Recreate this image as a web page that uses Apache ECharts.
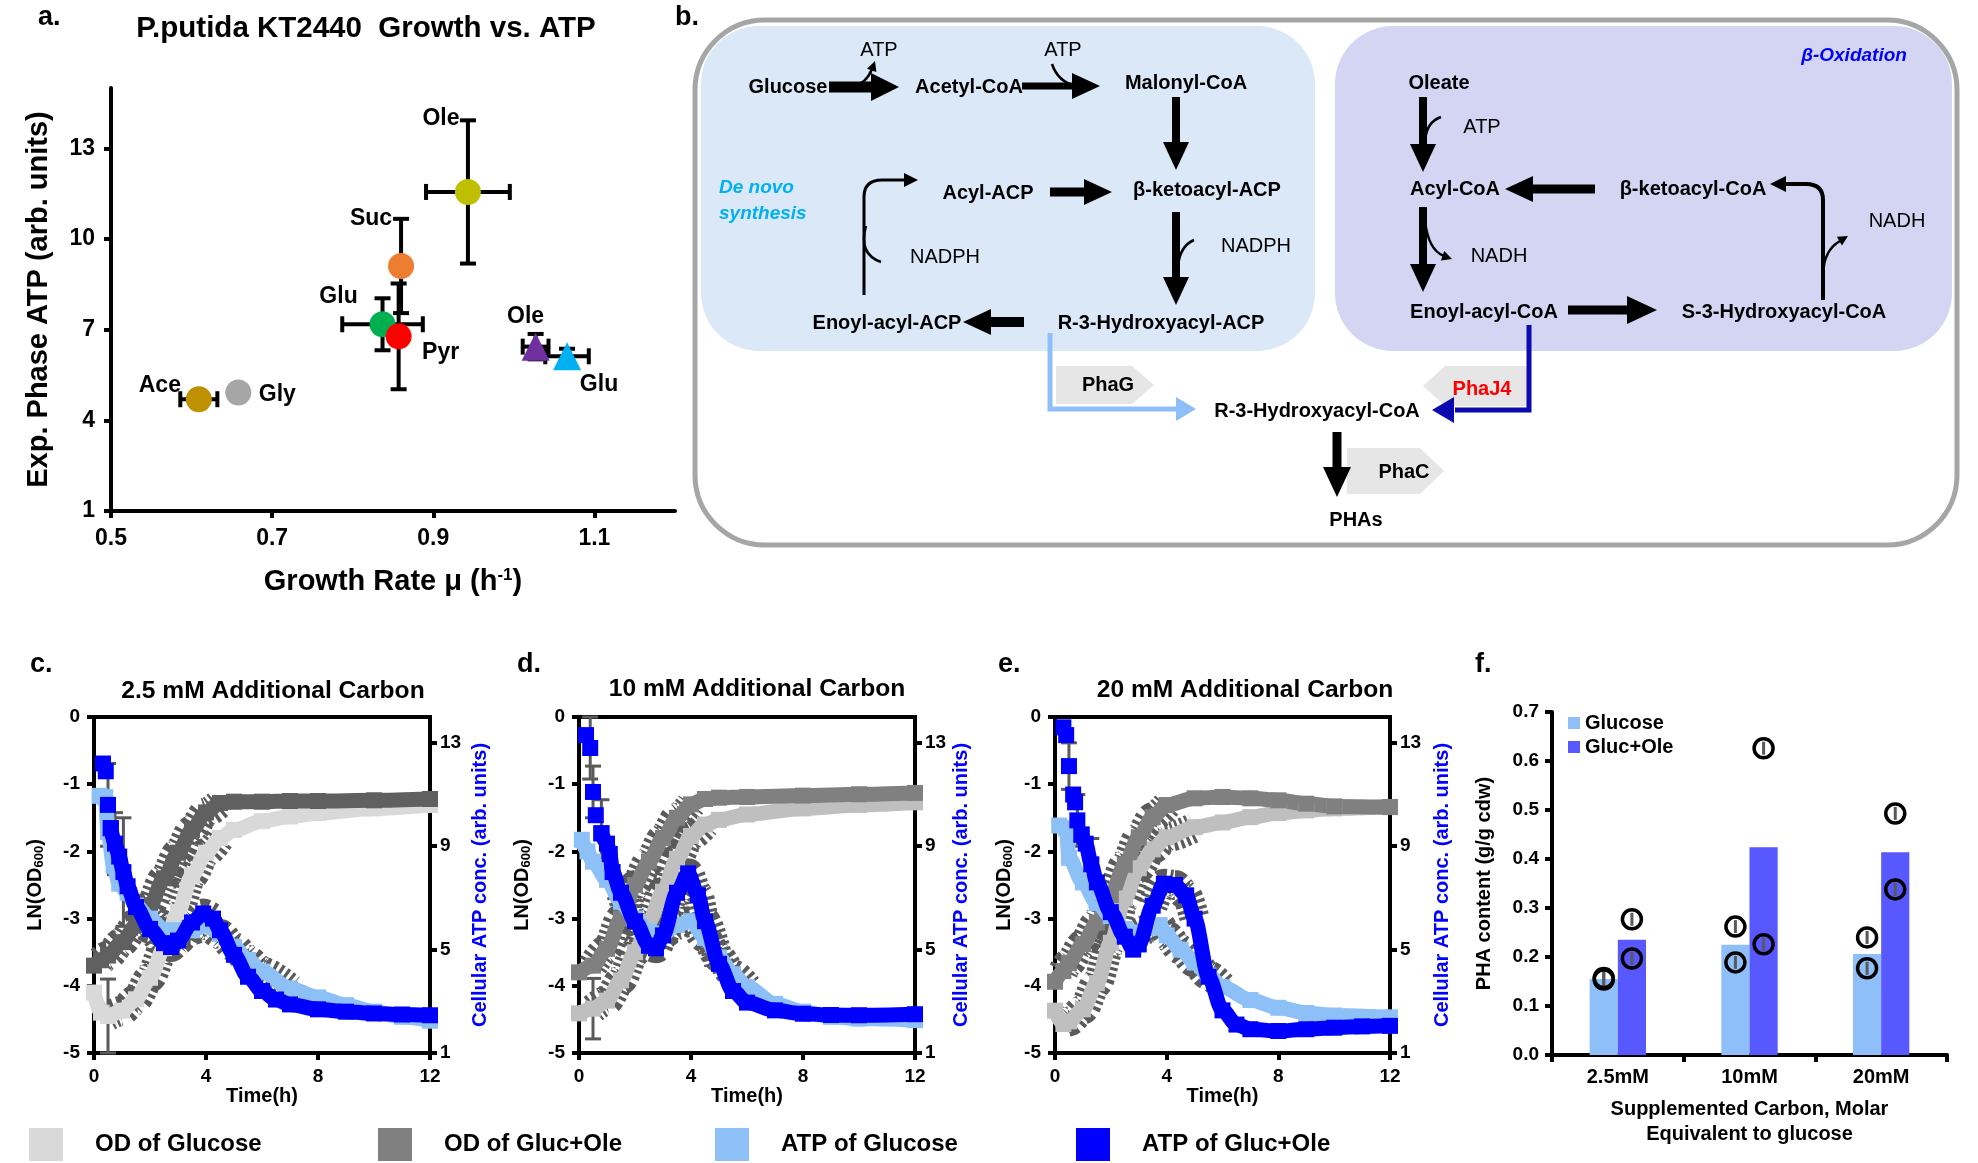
<!DOCTYPE html>
<html>
<head>
<meta charset="utf-8">
<script src="https://cdn.jsdelivr.net/npm/echarts@6/dist/echarts.min.js"></script>
<style>html,body{margin:0;padding:0;background:#fff}#c{width:1978px;height:1163px}</style>
</head>
<body>
<div id="c"></div>
<script>
// ================= DATA =================
// Panel a: growth rate vs exponential-phase ATP
const aNames = ['Ace','Gly','Glu','Pyr','Suc','Ole','Ole','Glu'];
const aGrowthRate = [0.609, 0.658, 0.837, 0.857, 0.860, 0.943, 1.027, 1.066];
const aATP = [4.70, 4.92, 7.18, 6.78, 9.11, 11.56, 6.44, 6.12];
const aGrowthErr = [0.023, 0, 0.050, 0, 0, 0.052, 0.016, 0.027];
const aATPErr = [0, 0, 0.86, 1.75, 1.56, 2.37, 0.42, 0.25];
const aXTicks = [0.5, 0.7, 0.9, 1.1];
const aYTicks = [1, 4, 7, 10, 13];

// Panels c-e shared ticks / legend
const timeTicks = [0, 4, 8, 12];
const odTicks = [-5, -4, -3, -2, -1, 0];
const atpTicks = [1, 5, 9, 13];
const legendNames = ['OD of Glucose', 'OD of Gluc+Ole', 'ATP of Glucose', 'ATP of Gluc+Ole'];

// Panel c: 2.5 mM
const cOdTime = [0, 0.25, 0.5, 1, 1.5, 2, 2.5, 3, 3.5, 4, 4.5, 5, 6, 7, 8, 10, 12];
const cOdGlucose = [-4.1, -4.4, -4.45, -4.37, -4.2, -3.88, -3.44, -2.9, -2.36, -2.02, -1.8, -1.68, -1.55, -1.48, -1.43, -1.36, -1.31];
const cOdGlucoseErr = [0, 0, 0.55, 0, 0, 0, 0, 0, 0, 0, 0, 0, 0, 0, 0, 0, 0];
const cOdGlucOle = [-3.7, -3.62, -3.55, -3.35, -3.1, -2.8, -2.4, -2.02, -1.68, -1.42, -1.28, -1.26, -1.26, -1.25, -1.25, -1.24, -1.22];
const cAtpGlucTime = [0.2, 0.4, 0.5, 0.7, 0.9, 1.2, 1.5, 2, 2.5, 3, 3.5, 4, 4.5, 5, 5.5, 6, 7, 8, 9, 10, 11, 12];
const cAtpGlucose = [10.95, 10.9, 9.55, 8.25, 7.55, 7.2, 6.7, 6.2, 5.75, 5.75, 5.75, 5.95, 5.6, 5.1, 4.6, 4.15, 3.5, 3.15, 2.85, 2.6, 2.4, 2.25];
const cAtpOleTime = [0.32, 0.42, 0.5, 0.6, 0.75, 0.9, 1.05, 1.2, 1.5, 2, 2.5, 2.75, 3, 3.5, 3.9, 4.25, 4.5, 5, 5.5, 6, 6.5, 7, 8, 9, 10, 11, 12];
const cAtpGlucOle = [12.2, 11.9, 10.6, 9.7, 9.1, 8.6, 8.0, 7.45, 6.65, 5.8, 5.25, 5.1, 5.35, 6.05, 6.4, 6.2, 5.75, 4.8, 3.95, 3.4, 3.07, 2.88, 2.69, 2.6, 2.53, 2.49, 2.46];
const cAtpGlucOleErr = [0, 0, 1.6, 0, 1.2, 0, 2.1, 0, 0, 0, 0, 0, 0, 0, 0, 0, 0, 0, 0, 0, 0, 0, 0, 0, 0, 0, 0];

// Panel d: 10 mM
const dOdTime = [0, 0.5, 1, 1.5, 2, 2.5, 3, 3.5, 4, 4.5, 5, 6, 8, 10, 12];
const dOdGlucose = [-4.41, -4.34, -4.22, -3.92, -3.5, -3.05, -2.6, -2.11, -1.77, -1.6, -1.53, -1.45, -1.36, -1.31, -1.27];
const dOdGlucoseErr = [0, 0.45, 0, 0, 0, 0, 0, 0, 0, 0, 0, 0, 0, 0, 0];
const dOdGlucOle = [-3.8, -3.7, -3.45, -3.0, -2.5, -2.15, -1.8, -1.5, -1.3, -1.22, -1.2, -1.19, -1.17, -1.15, -1.13];
const dAtpGlucTime = [0.1, 0.3, 0.5, 1, 1.5, 2, 2.5, 3, 3.5, 4, 4.5, 5, 5.5, 6, 7, 8, 9, 10, 12];
const dAtpGlucose = [9.25, 8.8, 8.4, 7.7, 6.85, 6.2, 5.7, 5.6, 5.95, 6.1, 5.45, 4.7, 4.05, 3.55, 2.9, 2.6, 2.4, 2.33, 2.27];
const dAtpOleTime = [0.25, 0.4, 0.5, 0.6, 0.8, 1.0, 1.1, 1.2, 1.5, 2, 2.5, 2.75, 3, 3.5, 3.9, 4.25, 4.5, 5, 5.5, 6, 7, 8, 9, 10, 12];
const dAtpGlucOle = [13.3, 12.8, 11.1, 10.2, 9.5, 9.1, 8.7, 8.0, 7.2, 6.1, 5.15, 5.05, 5.55, 7.2, 7.95, 7.1, 6.1, 4.45, 3.4, 2.95, 2.65, 2.52, 2.47, 2.46, 2.5];
const dAtpGlucOleErr = [0, 1.2, 1.0, 0, 1.3, 0, 0, 0, 0, 0, 0, 0, 0, 0, 0, 0, 0, 0, 0, 0, 0, 0, 0, 0, 0];

// Panel e: 20 mM
const eOdTime = [0, 0.3, 0.5, 1, 1.5, 2, 2.5, 3, 3.5, 4, 5, 6, 7, 8, 9, 10, 12];
const eOdGlucose = [-4.37, -4.57, -4.53, -4.35, -3.96, -3.36, -2.7, -2.25, -1.97, -1.79, -1.64, -1.57, -1.49, -1.43, -1.39, -1.36, -1.34];
const eOdGlucOle = [-3.94, -3.78, -3.66, -3.38, -3.06, -2.65, -2.2, -1.79, -1.49, -1.31, -1.21, -1.19, -1.21, -1.24, -1.29, -1.33, -1.34];
const eAtpGlucTime = [0.15, 0.4, 0.5, 1, 1.5, 2, 2.5, 3, 3.5, 3.75, 4, 4.5, 5, 5.5, 6, 7, 8, 9, 10, 12];
const eAtpGlucose = [9.8, 9.7, 8.55, 7.6, 6.8, 6.3, 5.8, 5.65, 5.85, 5.95, 5.55, 5.0, 4.5, 4.0, 3.55, 3.05, 2.75, 2.55, 2.45, 2.38];
const eAtpOleTime = [0.3, 0.4, 0.5, 0.65, 0.72, 0.8, 0.95, 1.1, 1.3, 1.5, 2, 2.5, 2.8, 3, 3.5, 3.9, 4.3, 4.7, 5, 5.5, 6, 6.5, 7, 8, 9, 10, 11, 12];
const eAtpGlucOle = [13.6, 13.3, 12.1, 11.0, 10.7, 10.0, 9.45, 9.1, 8.3, 7.6, 6.45, 5.5, 5.0, 5.2, 6.7, 7.55, 7.5, 7.1, 6.2, 3.95, 2.65, 2.1, 1.92, 1.85, 1.92, 1.98, 2.03, 2.05];
const eAtpGlucOleErr = [0, 0, 0.9, 0, 0, 1.0, 0, 0, 1.0, 0, 0, 0, 0, 0, 0, 0, 0, 0, 0, 0, 0, 0, 0, 0, 0, 0, 0, 0];

// Panel f: PHA content
const fCategories = ['2.5mM', '10mM', '20mM'];
const fGlucose = [0.155, 0.225, 0.206];
const fGlucOle = [0.235, 0.424, 0.414];
const fGlucoseReps = [[0.157, 0.154], [0.262, 0.189], [0.240, 0.177]];
const fGlucOleReps = [[0.277, 0.197], [0.626, 0.226], [0.493, 0.338]];
const fTicks = [0, 0.1, 0.2, 0.3, 0.4, 0.5, 0.6, 0.7];

// ================= STYLE =================
const FF = '"Liberation Sans", Arial, Helvetica, sans-serif';
const aColors = ['#BF9000', '#A6A6A6', '#00B050', '#FF0000', '#ED7D31', '#BFBF00', '#7030A0', '#00B0F0'];
const aSymbols = ['circle', 'circle', 'circle', 'circle', 'circle', 'circle', 'triangle', 'triangle'];
const aLabelOffsets = [[-39, -14], [39, 2], [-44, -28], [42, 16], [-30, -47], [-27, -73], [-10, -30], [32, 28]];
const C_ATPGLU = '#8EC0F8', C_ATPOLE = '#0000FF', C_ERR = '#5A5A5A';
const cGrey = ['#D9D9D9', '#606060'], deGrey = ['#BFBFBF', '#808080'];
const legendColors = ['#D9D9D9', '#808080', C_ATPGLU, C_ATPOLE];
const fBarOffset = 0.107;
const LW = 15, SS = 16;

// ================= HELPERS =================
const pairs = (t, v) => t.map((x, i) => [x, v[i]]);
const triples = (t, v, e) => t.map((x, i) => [x, v[i], e[i]]).filter(d => d[2] > 0);

function valAxis(o) {
  return {
    type: 'value', gridIndex: o.gridIndex, min: o.min, max: o.max, position: o.position,
    axisLine: { show: true, onZero: false, lineStyle: { color: '#000', width: 4 } },
    axisTick: { show: true, inside: false, length: o.tickLen || 7, lineStyle: { color: '#000', width: 4 }, customValues: o.ticks },
    axisLabel: { show: true, customValues: o.ticks, formatter: o.fmt, color: '#000', fontSize: o.fontSize || 19, fontWeight: 'bold', fontFamily: FF, margin: o.margin || 12 },
    splitLine: { show: false },
    name: o.name, nameLocation: 'middle', nameGap: o.nameGap,
    nameTextStyle: { color: o.nameColor || '#000', fontSize: o.nameSize || 20, fontWeight: 'bold', fontFamily: FF, lineHeight: o.lineHeight, rich: o.rich }
  };
}

const subRich = { sub: { fontSize: 13, fontWeight: 'bold', fontFamily: FF, color: '#000', verticalAlign: 'bottom', padding: [8, 0, 0, 0] } };
const supRich = { sup: { fontSize: 17, fontWeight: 'bold', fontFamily: FF, color: '#000', verticalAlign: 'top', padding: [0, 0, 10, 0] } };

function mainLine(name, color, t, v, xi, yi, z) {
  return { type: 'line', name, xAxisIndex: xi, yAxisIndex: yi, data: pairs(t, v), smooth: 0.3, smoothMonotone: 'x',
    symbol: 'rect', symbolSize: SS, showSymbol: true, lineStyle: { width: LW, color }, itemStyle: { color, opacity: 1 }, z, silent: true };
}
function atpOle(name, color, t, v, xi, yi, k) {
  const d = pairs(t, v);
  return [
    { type: 'scatter', name, xAxisIndex: xi, yAxisIndex: yi, data: d.slice(0, k), symbol: 'rect', symbolSize: SS, itemStyle: { color, opacity: 1 }, z: 5, silent: true },
    { type: 'line', name, xAxisIndex: xi, yAxisIndex: yi, data: d.slice(k - 1), smooth: 0.3, smoothMonotone: 'x',
      symbol: 'rect', symbolSize: SS, showSymbol: true, lineStyle: { width: LW, color }, itemStyle: { color, opacity: 1 }, z: 5, silent: true }
  ];
}
// dense error-bar hatching along a stretch of a curve
function hatch(t, v, i0, i1, xi, yi, w) {
  return { type: 'line', name: 'hatch', xAxisIndex: xi, yAxisIndex: yi, data: pairs(t, v).slice(i0, i1 + 1),
    smooth: 0.3, smoothMonotone: 'x', symbol: 'none', silent: true, z: 2,
    lineStyle: { width: w || 30, color: C_ERR, type: [3, 3], cap: 'butt' } };
}
function errSeries(t, v, e, xi, yi) {
  return { type: 'custom', name: 'err', xAxisIndex: xi, yAxisIndex: yi, z: 2, silent: true, encode: { x: 0, y: 1 },
    data: triples(t, v, e),
    renderItem: (params, api) => {
      const x = api.value(0), y = api.value(1), e = api.value(2);
      const top = api.coord([x, y + e]), bot = api.coord([x, y - e]);
      const st = { stroke: C_ERR, lineWidth: 3 }, cap = 8;
      return { type: 'group', children: [
        { type: 'line', shape: { x1: top[0], y1: top[1], x2: bot[0], y2: bot[1] }, style: st },
        { type: 'line', shape: { x1: top[0] - cap, y1: top[1], x2: top[0] + cap, y2: top[1] }, style: st },
        { type: 'line', shape: { x1: bot[0] - cap, y1: bot[1], x2: bot[0] + cap, y2: bot[1] }, style: st }
      ] };
    } };
}

function panelAxes(gi, leftGap, rightGap) {
  return {
    x: valAxis({ gridIndex: gi, min: 0, max: 12, ticks: timeTicks, name: 'Time(h)', nameGap: 32, margin: 14 }),
    yl: valAxis({ gridIndex: gi, min: -5, max: 0, ticks: odTicks, name: 'LN(OD{sub|600})', nameGap: leftGap, rich: subRich, margin: 14 }),
    yr: valAxis({ gridIndex: gi, min: 1, max: 14, ticks: atpTicks, position: 'right', name: 'Cellular ATP conc. (arb. units)', nameGap: rightGap, nameColor: '#0000FF', margin: 10 })
  };
}
const pc = panelAxes(1, 48, 40), pd = panelAxes(2, 46, 36), pe = panelAxes(3, 40, 42);

// error bars for panel a
function errRender(params, api) {
  const x = api.value(0), y = api.value(1), ex = api.value(2), ey = api.value(3);
  const st = { stroke: '#000', lineWidth: 4 };
  const cap = 8, ch = [];
  if (ex > 0) {
    const l = api.coord([x - ex, y]), r = api.coord([x + ex, y]);
    ch.push({ type: 'line', shape: { x1: l[0], y1: l[1], x2: r[0], y2: r[1] }, style: st });
    ch.push({ type: 'line', shape: { x1: l[0], y1: l[1] - cap, x2: l[0], y2: l[1] + cap }, style: st });
    ch.push({ type: 'line', shape: { x1: r[0], y1: r[1] - cap, x2: r[0], y2: r[1] + cap }, style: st });
  }
  if (ey > 0) {
    const t = api.coord([x, y + ey]), b = api.coord([x, y - ey]);
    ch.push({ type: 'line', shape: { x1: t[0], y1: t[1], x2: b[0], y2: b[1] }, style: st });
    ch.push({ type: 'line', shape: { x1: t[0] - cap, y1: t[1], x2: t[0] + cap, y2: t[1] }, style: st });
    ch.push({ type: 'line', shape: { x1: b[0] - cap, y1: b[1], x2: b[0] + cap, y2: b[1] }, style: st });
  }
  return { type: 'group', children: ch };
}

// ================= DIAGRAM (panel b) helpers =================
function T(text, x, y, o) {
  o = o || {};
  const al = o.align || 'center';
  return { type: 'text', x, y, z: 20, silent: true,
    style: { text, font: (o.italic ? 'italic ' : '') + (o.weight || 'bold') + ' ' + (o.size || 20) + 'px ' + FF,
      fill: o.color || '#000', align: al, verticalAlign: 'middle', textAlign: al, textVerticalAlign: 'middle' } };
}
function P(points, fill, z) { return { type: 'polygon', z: z || 12, silent: true, shape: { points }, style: { fill } }; }
function PL(points, stroke, w, z) { return { type: 'polyline', z: z || 12, silent: true, shape: { points }, style: { stroke, lineWidth: w, fill: 'none' } }; }
function BZ(x1, y1, cx, cy, x2, y2, stroke, w) {
  return { type: 'bezierCurve', z: 12, silent: true, shape: { x1, y1, x2, y2, cpx1: cx, cpy1: cy }, style: { stroke: stroke || '#000', lineWidth: w || 2.5, fill: 'none' } };
}
function hArrow(x1, x2, y, sw, hl, hw) {
  const d = x2 > x1 ? 1 : -1, b = x2 - d * hl;
  return P([[x1, y - sw / 2], [b, y - sw / 2], [b, y - hw / 2], [x2, y], [b, y + hw / 2], [b, y + sw / 2], [x1, y + sw / 2]], '#000');
}
function vArrow(x, y1, y2, sw, hl, hw) {
  const d = y2 > y1 ? 1 : -1, b = y2 - d * hl;
  return P([[x - sw / 2, y1], [x - sw / 2, b], [x - hw / 2, b], [x, y2], [x + hw / 2, b], [x + sw / 2, b], [x + sw / 2, y1]], '#000');
}
function head(tx, ty, dx, dy, len, half, fill) {
  const n = Math.hypot(dx, dy); dx /= n; dy /= n;
  const bx = tx - dx * len, by = ty - dy * len;
  return P([[tx, ty], [bx - dy * half, by + dx * half], [bx + dy * half, by - dx * half]], fill || '#000');
}

const diagram = [
  { type: 'rect', z: 1, silent: true, shape: { x: 695, y: 20, width: 1262, height: 525, r: 70 }, style: { fill: '#fff', stroke: '#A6A6A6', lineWidth: 5 } },
  { type: 'rect', z: 2, silent: true, shape: { x: 701, y: 26, width: 614, height: 325, r: 58 }, style: { fill: '#DAE8F8' } },
  { type: 'rect', z: 2, silent: true, shape: { x: 1335, y: 26, width: 617, height: 325, r: 58 }, style: { fill: '#D4D5F3' } },
  P([[1056, 366], [1132, 366], [1154, 385], [1132, 404], [1056, 404]], '#E6E6E6', 5),
  P([[1445, 366], [1527, 366], [1527, 406], [1445, 406], [1423, 386]], '#E6E6E6', 5),
  P([[1347, 448], [1420, 448], [1444, 471], [1420, 494], [1347, 494]], '#E6E6E6', 5),
  hArrow(829, 899, 87, 11, 28, 28),
  BZ(853, 86, 866, 84, 872, 69), head(875, 61, 0.35, -1, 10, 5),
  hArrow(1022, 1100, 86, 7, 28, 26),
  BZ(1052, 64, 1058, 82, 1076, 86),
  vArrow(1176, 97, 170, 8, 28, 26),
  hArrow(1050, 1112, 192, 9, 28, 26),
  vArrow(1176, 212, 305, 8, 28, 26),
  BZ(1194, 240, 1180, 246, 1178, 266),
  hArrow(1024, 963, 322, 10, 28, 26),
  PL([[864, 295], [864, 197]], '#000', 3),
  BZ(864, 197, 864, 180, 882, 180, '#000', 3),
  PL([[882, 180], [906, 180]], '#000', 3),
  head(918, 180, 1, 0, 14, 7),
  BZ(866, 226, 858, 254, 881, 262),
  PL([[1050, 333], [1050, 409], [1178, 409]], '#8FBFF8', 5, 11),
  head(1196, 409, 1, 0, 20, 12, '#8FBFF8'),
  vArrow(1423, 97, 172, 8, 28, 26),
  BZ(1441, 117, 1426, 122, 1425, 142),
  hArrow(1595, 1505, 189, 9, 28, 26),
  vArrow(1423, 207, 292, 8, 28, 26),
  BZ(1425, 220, 1428, 250, 1444, 256), head(1452, 259, 1, 0.35, 10, 5),
  hArrow(1568, 1657, 310, 9, 30, 28),
  PL([[1823, 300], [1823, 200]], '#000', 4),
  BZ(1823, 200, 1823, 184, 1806, 184, '#000', 4),
  PL([[1806, 184], [1785, 184]], '#000', 4),
  head(1770, 184, -1, 0, 16, 8),
  BZ(1823, 274, 1824, 250, 1840, 241), head(1848, 236, 1, -0.6, 10, 5),
  PL([[1529, 325], [1529, 410], [1455, 410]], '#0A0AB0', 5, 11),
  head(1432, 410, -1, 0, 22, 13, '#0A0AB0'),
  vArrow(1337, 432, 497, 9, 30, 28),
  T('Glucose', 788, 87), T('ATP', 879, 50, { weight: 'normal' }), T('Acetyl-CoA', 969, 87),
  T('ATP', 1063, 50, { weight: 'normal' }), T('Malonyl-CoA', 1186, 83),
  T('De novo', 719, 188, { italic: true, color: '#00B0F0', align: 'left', size: 19 }),
  T('synthesis', 719, 214, { italic: true, color: '#00B0F0', align: 'left', size: 19 }),
  T('Acyl-ACP', 988, 193), T('β-ketoacyl-ACP', 1207, 190),
  T('NADPH', 945, 257, { weight: 'normal' }), T('NADPH', 1256, 246, { weight: 'normal' }),
  T('Enoyl-acyl-ACP', 887, 323), T('R-3-Hydroxyacyl-ACP', 1161, 323),
  T('PhaG', 1108, 385), T('R-3-Hydroxyacyl-CoA', 1317, 411), T('PhaJ4', 1482, 389, { color: '#FF0000' }),
  T('PhaC', 1404, 472), T('PHAs', 1356, 520),
  T('β-Oxidation', 1854, 56, { italic: true, color: '#0000FF', size: 19 }),
  T('Oleate', 1439, 83), T('ATP', 1482, 127, { weight: 'normal' }), T('Acyl-CoA', 1455, 189),
  T('β-ketoacyl-CoA', 1693, 189), T('NADH', 1499, 256, { weight: 'normal' }), T('NADH', 1897, 221, { weight: 'normal' }),
  T('Enoyl-acyl-CoA', 1484, 312), T('S-3-Hydroxyacyl-CoA', 1784, 312)
];

const panelTexts = [
  T('a.', 38, 18, { align: 'left', size: 27 }),
  T('P.putida KT2440  Growth vs. ATP', 366, 29, { size: 29.5 }),
  T('b.', 675, 18, { align: 'left', size: 27 }),
  T('c.', 30, 665, { align: 'left', size: 27 }),
  T('d.', 517, 665, { align: 'left', size: 27 }),
  T('e.', 998, 665, { align: 'left', size: 27 }),
  T('f.', 1475, 665, { align: 'left', size: 27 }),
  T('2.5 mM Additional Carbon', 273, 691, { size: 24.6 }),
  T('10 mM Additional Carbon', 757, 689, { size: 24.6 }),
  T('20 mM Additional Carbon', 1245, 690, { size: 24.6 })
];

// ================= OPTION =================
const boxGrid = { show: true, borderColor: '#000', borderWidth: 4, backgroundColor: 'transparent', outerBoundsMode: 'none' };
const legendBase = { icon: 'rect', itemWidth: 34, itemHeight: 33, top: 1128, padding: 0, selectedMode: false,
  textStyle: { fontSize: 24, fontWeight: 'bold', color: '#000', fontFamily: FF, padding: [0, 0, 0, 27] } };
const legendLefts = [29, 378, 715, 1076];

const repPoints = fCategories.flatMap((c, i) => fGlucoseReps[i].map(v => [i + 0.5 - fBarOffset, v])
  .concat(fGlucOleReps[i].map(v => [i + 0.5 + fBarOffset, v])));

const option = {
  animation: false,
  backgroundColor: '#fff',
  textStyle: { fontFamily: FF },
  grid: [
    { left: 111, top: 88, width: 564, height: 423, outerBoundsMode: 'none' },
    Object.assign({ left: 94, top: 717, width: 336, height: 336 }, boxGrid),
    Object.assign({ left: 579, top: 717, width: 336, height: 336 }, boxGrid),
    Object.assign({ left: 1055, top: 717, width: 335, height: 336 }, boxGrid),
    { left: 1552, top: 712, width: 395, height: 343, outerBoundsMode: 'none' }
  ],
  xAxis: [
    valAxis({ gridIndex: 0, min: 0.5, max: 1.2, ticks: aXTicks, fmt: v => v.toFixed(1), fontSize: 23, margin: 16,
      name: 'Growth Rate μ (h{sup|-1})', nameGap: 56, nameSize: 29, rich: supRich }),
    pc.x, pd.x, pe.x,
    { type: 'category', gridIndex: 4, data: fCategories,
      axisLine: { show: true, lineStyle: { color: '#000', width: 4 } },
      axisTick: { show: true, inside: false, length: 7, alignWithLabel: false, lineStyle: { color: '#000', width: 4 } },
      axisLabel: { color: '#000', fontSize: 20, fontWeight: 'bold', fontFamily: FF, margin: 12 },
      name: 'Supplemented Carbon, Molar\nEquivalent to glucose', nameLocation: 'middle', nameGap: 42,
      nameTextStyle: { color: '#000', fontSize: 20, fontWeight: 'bold', fontFamily: FF, lineHeight: 25 } },
    { type: 'value', gridIndex: 4, min: 0, max: 3, show: false }
  ],
  yAxis: [
    valAxis({ gridIndex: 0, min: 1, max: 15, ticks: aYTicks, fontSize: 23, margin: 16,
      name: 'Exp. Phase ATP (arb. units)', nameGap: 58, nameSize: 29 }),
    pc.yl, pc.yr, pd.yl, pd.yr, pe.yl, pe.yr,
    valAxis({ gridIndex: 4, min: 0, max: 0.7, ticks: fTicks, fmt: v => v.toFixed(1), fontSize: 19, margin: 13,
      name: 'PHA content (g/g cdw)', nameGap: 58, nameSize: 20 })
  ],
  legend: legendNames.map((n, i) => Object.assign({}, legendBase,
    { left: legendLefts[i], data: [{ name: n, itemStyle: { color: legendColors[i] } }] })).concat([
    { left: 1568, top: 713, orient: 'vertical', icon: 'rect', itemWidth: 12, itemHeight: 12, itemGap: 4, padding: 0,
      selectedMode: false, data: ['Glucose', 'Gluc+Ole'],
      textStyle: { fontSize: 20, fontWeight: 'bold', color: '#000', fontFamily: FF } }
  ]),
  graphic: { elements: diagram.concat(panelTexts) },
  series: [
    // panel a
    { type: 'custom', name: 'aErr', xAxisIndex: 0, yAxisIndex: 0, renderItem: errRender, z: 2, silent: true,
      encode: { x: 0, y: 1 },
      data: aNames.map((n, i) => [aGrowthRate[i], aATP[i], aGrowthErr[i], aATPErr[i]]) },
    { type: 'scatter', name: 'aPts', xAxisIndex: 0, yAxisIndex: 0, z: 3, silent: true,
      data: aNames.map((n, i) => ({
        name: n, value: [aGrowthRate[i], aATP[i]], symbol: aSymbols[i], symbolSize: aSymbols[i] === 'triangle' ? 28 : 26,
        itemStyle: { color: aColors[i], opacity: 1 },
        label: { show: true, position: 'inside', offset: aLabelOffsets[i], formatter: n, color: '#000',
          fontSize: 23, fontWeight: 'bold', fontFamily: FF }
      })) },
    // panel c
    hatch(cOdTime, cOdGlucose, 2, 10, 1, 1), hatch(cOdTime, cOdGlucOle, 1, 10, 1, 1),
    hatch(cAtpGlucTime, cAtpGlucose, 7, 16, 1, 2), hatch(cAtpOleTime, cAtpGlucOle, 8, 15, 1, 2),
    errSeries(cOdTime, cOdGlucose, cOdGlucoseErr, 1, 1), errSeries(cAtpOleTime, cAtpGlucOle, cAtpGlucOleErr, 1, 2),
    mainLine('OD of Glucose', cGrey[0], cOdTime, cOdGlucose, 1, 1, 3),
    mainLine('OD of Gluc+Ole', cGrey[1], cOdTime, cOdGlucOle, 1, 1, 3),
    mainLine('ATP of Glucose', C_ATPGLU, cAtpGlucTime, cAtpGlucose, 1, 2, 4),
    ...atpOle('ATP of Gluc+Ole', C_ATPOLE, cAtpOleTime, cAtpGlucOle, 1, 2, 4),
    // panel d
    hatch(dOdTime, dOdGlucose, 1, 9, 2, 3), hatch(dOdTime, dOdGlucOle, 1, 8, 2, 3),
    hatch(dAtpGlucTime, dAtpGlucose, 6, 13, 2, 4), hatch(dAtpOleTime, dAtpGlucOle, 8, 17, 2, 4),
    errSeries(dOdTime, dOdGlucose, dOdGlucoseErr, 2, 3), errSeries(dAtpOleTime, dAtpGlucOle, dAtpGlucOleErr, 2, 4),
    mainLine('OD of Glucose', deGrey[0], dOdTime, dOdGlucose, 2, 3, 3),
    mainLine('OD of Gluc+Ole', deGrey[1], dOdTime, dOdGlucOle, 2, 3, 3),
    mainLine('ATP of Glucose', C_ATPGLU, dAtpGlucTime, dAtpGlucose, 2, 4, 4),
    ...atpOle('ATP of Gluc+Ole', C_ATPOLE, dAtpOleTime, dAtpGlucOle, 2, 4, 5),
    // panel e
    hatch(eOdTime, eOdGlucose, 1, 10, 3, 5), hatch(eOdTime, eOdGlucOle, 1, 9, 3, 5),
    hatch(eAtpGlucTime, eAtpGlucose, 7, 14, 3, 6), hatch(eAtpOleTime, eAtpGlucOle, 14, 18, 3, 6),
    errSeries(eAtpOleTime, eAtpGlucOle, eAtpGlucOleErr, 3, 6),
    mainLine('OD of Glucose', deGrey[0], eOdTime, eOdGlucose, 3, 5, 3),
    mainLine('OD of Gluc+Ole', deGrey[1], eOdTime, eOdGlucOle, 3, 5, 3),
    mainLine('ATP of Glucose', C_ATPGLU, eAtpGlucTime, eAtpGlucose, 3, 6, 4),
    ...atpOle('ATP of Gluc+Ole', C_ATPOLE, eAtpOleTime, eAtpGlucOle, 3, 6, 7),
    // panel f
    { type: 'bar', name: 'Glucose', xAxisIndex: 4, yAxisIndex: 7, data: fGlucose, barWidth: '21.4%', barGap: '0%',
      itemStyle: { color: '#8FBFF8' }, silent: true },
    { type: 'bar', name: 'Gluc+Ole', xAxisIndex: 4, yAxisIndex: 7, data: fGlucOle, barWidth: '21.4%', barGap: '0%',
      itemStyle: { color: '#5858FF' }, silent: true },
    { type: 'scatter', name: 'fRepLine', xAxisIndex: 5, yAxisIndex: 7, symbol: 'rect', symbolSize: [3, 13], z: 5, silent: true,
      itemStyle: { color: '#595959', opacity: 1 }, data: repPoints },
    { type: 'scatter', name: 'fRep', xAxisIndex: 5, yAxisIndex: 7, symbol: 'circle', symbolSize: 19, z: 6, silent: true,
      itemStyle: { color: 'rgba(0,0,0,0)', borderColor: '#000', borderWidth: 3.5, opacity: 1 }, data: repPoints }
  ]
};

const chart = echarts.init(document.getElementById('c'), null, { renderer: 'canvas', width: 1978, height: 1163 });
chart.setOption(option);
</script>
</body>
</html>
